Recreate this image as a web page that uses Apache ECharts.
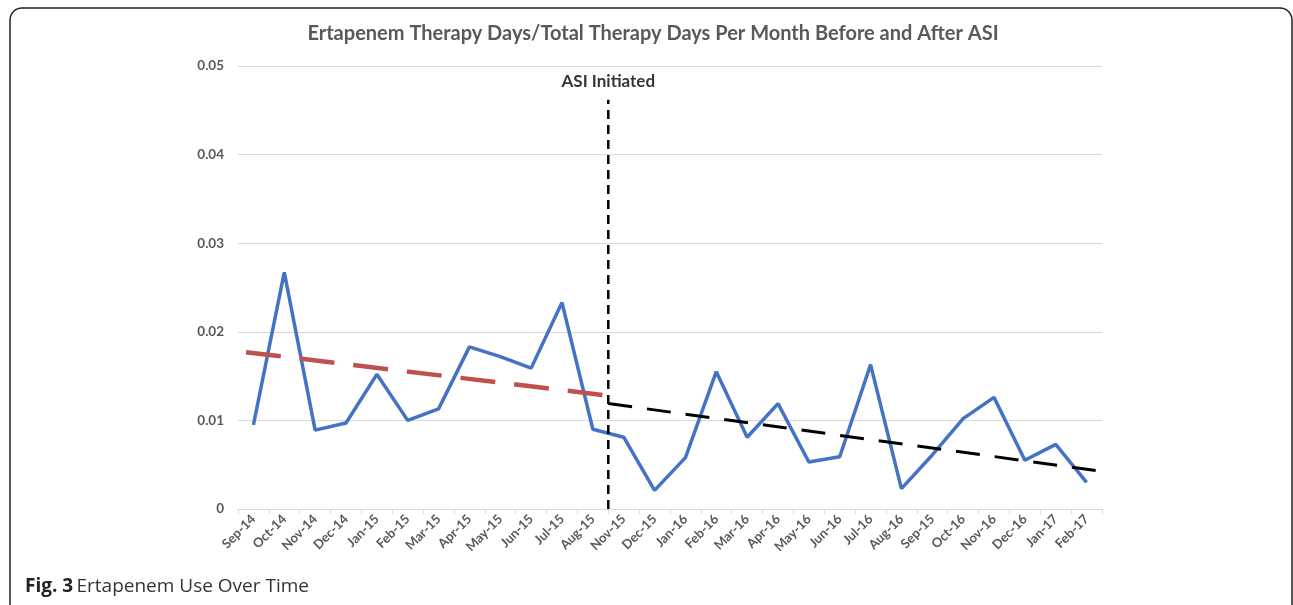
<!DOCTYPE html>
<html>
<head>
<meta charset="utf-8">
<script src="https://cdn.jsdelivr.net/npm/echarts@6/dist/echarts.min.js"></script>
<style>html,body{margin:0;padding:0;background:#fff}#c{width:1293px;height:605px}</style>
</head>
<body>
<div id="c"></div>
<script>
const categories = ["Sep-14","Oct-14","Nov-14","Dec-14","Jan-15","Feb-15","Mar-15","Apr-15","May-15","Jun-15","Jul-15","Aug-15","Nov-15","Dec-15","Jan-16","Feb-16","Mar-16","Apr-16","May-16","Jun-16","Jul-16","Aug-16","Sep-15","Oct-16","Nov-16","Dec-16","Jan-17","Feb-17"];
const ertapenemRatio = [0.0095,0.0267,0.0089,0.0097,0.0152,0.0100,0.0113,0.0183,0.0172,0.0159,0.0233,0.0090,0.0081,0.0021,0.0058,0.0155,0.0081,0.0119,0.0053,0.0059,0.0163,0.0023,0.0061,0.0102,0.0126,0.0055,0.0073,0.0030];
// trend lines: [position along category axis (0..28), value]
const trendBefore = [[0.26,0.0177],[12,0.0128]];
const trendAfter = [[12,0.0119],[28.1,0.0042]];
const asiLine = [[12,0],[12,0.0462]];
const yTicks = [0,0.01,0.02,0.03,0.04,0.05];
const titleText = "Ertapenem Therapy Days/Total Therapy Days Per Month Before and After ASI";
const asiLabel = "ASI Initiated";

const chart = echarts.init(document.getElementById('c'));
const gray = '#595959';
const font = 'Lato';
chart.setOption({
  animation:false,
  backgroundColor:'#fff',
  grid:{left:238,right:191,top:66,bottom:96},
  xAxis:[{
    type:'category', data:categories, boundaryGap:true,
    axisLine:{lineStyle:{color:'#d9d9d9',width:1}},
    axisTick:{show:true,interval:0,length:5,lineStyle:{color:'#d9d9d9'}},
    axisLabel:{interval:0,rotate:45,color:gray,fontWeight:'bold',fontSize:13,fontFamily:font,margin:8},
    splitLine:{show:false}
  },{
    type:'value', min:0, max:28, show:false
  }],
  yAxis:{
    type:'value', min:yTicks[0], max:yTicks[yTicks.length-1], interval:0.01,
    axisLine:{show:false}, axisTick:{show:false},
    axisLabel:{color:gray,fontWeight:'bold',fontSize:13.5,fontFamily:font,margin:14,
      formatter:function(v){return v===0?'0':v.toFixed(2);}},
    splitLine:{lineStyle:{color:'#d9d9d9',width:1}}
  },
  graphic:[
    {type:'rect',z:-10,shape:{x:10,y:8,width:1282,height:620,r:12},style:{fill:null,stroke:'#222',lineWidth:1.5}},
    {type:'text',x:653,y:34,style:{text:titleText,fill:gray,font:'bold 20px '+font,textAlign:'center',textVerticalAlign:'middle'}},
    {type:'text',x:25,y:587,style:{
      rich:{b:{fontWeight:'bold',fontSize:19,fontFamily:'Open Sans',fill:'#222'},n:{fontSize:19,fontFamily:'Open Sans',fill:'#333'}},
      text:'{b|Fig. 3} {n|Ertapenem Use Over Time}',textVerticalAlign:'middle'}}
  ],
  series:[
    {type:'line',name:'Ertapenem',data:ertapenemRatio,showSymbol:false,symbol:'none',
     lineStyle:{color:'#4472C4',width:3.5},z:3},
    {type:'line',xAxisIndex:1,data:trendBefore,showSymbol:false,symbol:'none',
     lineStyle:{color:'#C0504D',width:4.5,type:[35,19]},z:4},
    {type:'line',xAxisIndex:1,data:trendAfter,showSymbol:false,symbol:'none',
     lineStyle:{color:'#000',width:3,type:[24,15]},z:4},
    {type:'line',xAxisIndex:1,showSymbol:false,symbol:'none',data:asiLine,
     lineStyle:{color:'#000',width:2.5,type:[9,6]},z:5},
    {type:'scatter',xAxisIndex:1,data:[asiLine[1]],symbolSize:1,itemStyle:{color:'rgba(0,0,0,0)'},
     label:{show:true,position:'top',distance:9,formatter:asiLabel,color:'#000',fontWeight:'bold',fontSize:17,fontFamily:font},z:6}
  ]
});
</script>
</body>
</html>
